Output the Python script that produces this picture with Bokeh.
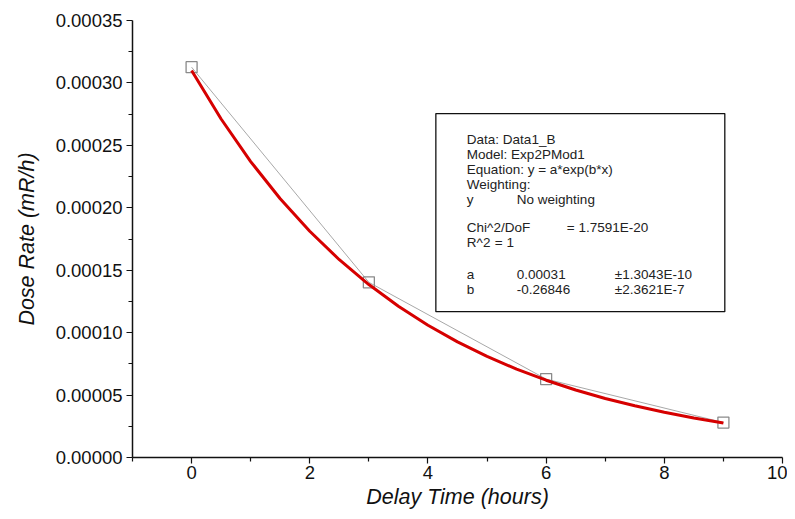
from bokeh.plotting import figure
from bokeh.models import Range1d, FixedTicker, PrintfTickFormatter, BoxAnnotation, Label
from bokeh.embed import file_html
from bokeh.resources import INLINE

# measured data points
delay_hours = [0, 3, 6, 9]
dose_rate = [0.0003126, 0.0001403, 0.0000628, 0.0000280]

# fitted curve (Exp2PMod1)
fit_hours = [0, 0.5, 1, 1.5, 2, 2.5, 3, 3.5, 4, 4.5, 5, 5.5, 6, 6.5, 7, 7.5, 8, 8.5, 9]
fit_rate = [3.100e-4, 2.711e-4, 2.370e-4, 2.072e-4, 1.812e-4, 1.584e-4, 1.385e-4,
            1.211e-4, 1.059e-4, 9.26e-5, 8.10e-5, 7.08e-5, 6.19e-5, 5.41e-5,
            4.73e-5, 4.14e-5, 3.62e-5, 3.16e-5, 2.77e-5]

x_major = [0, 2, 4, 6, 8, 10]
x_minor = [-1, 1, 3, 5, 7, 9]
y_major = [0.0, 0.00005, 0.00010, 0.00015, 0.00020, 0.00025, 0.00030, 0.00035]
y_minor = [0.000025, 0.000075, 0.000125, 0.000175, 0.000225, 0.000275, 0.000325]

info_rows = [
    ["Data: Data1_B"],
    ["Model: Exp2PMod1"],
    ["Equation: y = a*exp(b*x)"],
    ["Weighting:"],
    ["y", "No weighting"],
    ["Chi^2/DoF", "= 1.7591E-20"],
    ["R^2", "=  1"],
    ["a", "0.00031", "\u00b11.3043E-10"],
    ["b", "-0.26846", "\u00b12.3621E-7"],
]

FONT = "Liberation Sans"

p = figure(width=787, height=512, x_range=Range1d(-1, 10), y_range=Range1d(0, 0.00035),
           output_backend="svg", toolbar_location=None,
           min_border_left=132, min_border_top=20, min_border_right=5, min_border_bottom=55)
p.outline_line_color = None
p.xgrid.visible = False
p.ygrid.visible = False
p.background_fill_color = "white"

for ax in (p.xaxis[0], p.yaxis[0]):
    ax.axis_line_color = "#111111"
    ax.axis_line_width = 1.5
    ax.major_tick_line_color = "#111111"
    ax.minor_tick_line_color = "#111111"
    ax.major_tick_line_width = 1.2
    ax.minor_tick_line_width = 1.2
    ax.major_tick_out = 6
    ax.major_tick_in = 0
    ax.minor_tick_out = 4
    ax.minor_tick_in = 0
    ax.major_label_text_font = FONT
    ax.major_label_text_font_size = "18.5px"
    ax.major_label_text_color = "#111111"
    ax.axis_label_text_font = FONT
    ax.axis_label_text_font_size = "21.5px"
    ax.axis_label_text_font_style = "italic"
    ax.axis_label_text_color = "#111111"

p.xaxis.ticker = FixedTicker(ticks=x_major, minor_ticks=x_minor)
p.yaxis.ticker = FixedTicker(ticks=y_major, minor_ticks=y_minor)
p.yaxis.formatter = PrintfTickFormatter(format="%.5f")
p.xaxis.axis_label = "Delay Time (hours)"
p.yaxis.axis_label = "Dose Rate (mR/h)"
p.xaxis.major_label_standoff = 2
p.xaxis.axis_label_standoff = 3
p.yaxis.major_label_standoff = 4
p.yaxis.axis_label_standoff = 14

# data connected by thin grey line
p.line(delay_hours, dose_rate, line_color="#a8a8a8", line_width=1)
p.scatter(delay_hours, dose_rate, marker="square", size=11, fill_color=None,
          line_color="#8a8a8a", line_width=1.3)
# fitted curve
p.line(fit_hours, fit_rate, line_color="#d60000", line_width=3)

# info box (positions converted from picture pixels to data units)
def xd(px):
    return (px - 190.7) / 59.1

def yd(py):
    return (456.7 - py) / 436.7 * 0.00035

p.add_layout(BoxAnnotation(left=xd(435), right=xd(724), top=yd(113), bottom=yd(311),
                           fill_color="white", fill_alpha=1.0, line_color="#111111",
                           line_alpha=1.0, line_width=1.3, level="overlay"))

row_y = [139, 154, 169, 184, 199, 227, 242, 274, 289]
col_x = {
    4: [466, 516],
    5: [466, 566],
    6: [466, 494],
    7: [466, 516, 614],
    8: [466, 516, 614],
}
for i, row in enumerate(info_rows):
    xs = col_x.get(i, [466])
    for j, txt in enumerate(row):
        p.add_layout(Label(x=xd(xs[j]), y=yd(row_y[i]), text=txt, text_font=FONT,
                           text_font_size="13.5px", text_color="#222222",
                           text_baseline="middle", text_align="left", level="overlay"))

open("out.html", "w").write(file_html(p, INLINE))
